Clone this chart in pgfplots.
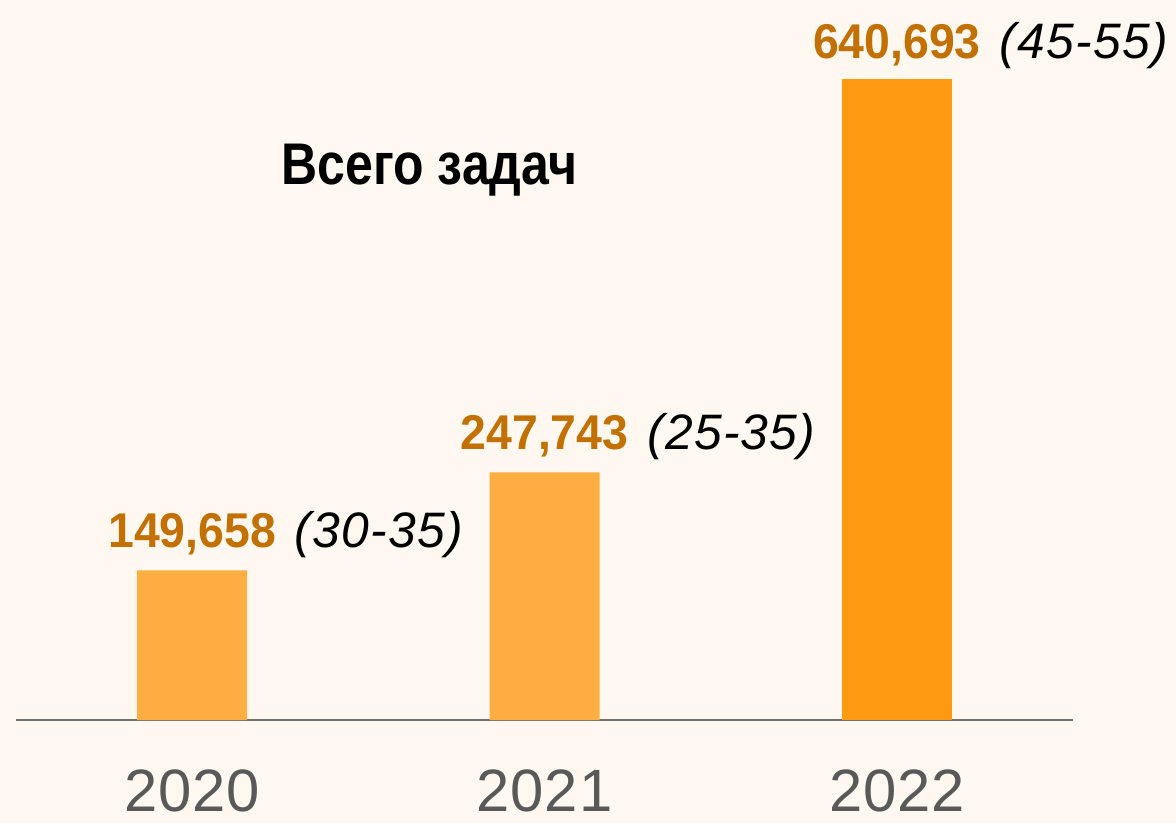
\documentclass[border=0pt]{standalone}
\usepackage{fontspec}
\setmainfont{Liberation Sans}
\newfontfamily\titlefont[FakeStretch=0.85]{Liberation Sans Bold}
\newfontfamily\numfont[FakeStretch=0.95]{Liberation Sans Bold}
\newfontfamily\itfont[LetterSpace=2.5]{Liberation Sans Italic}
\newfontfamily\tickfont[LetterSpace=1.5]{Liberation Sans}
\usepackage{pgfplots}
\pgfplotsset{compat=1.18}
\definecolor{bg}{HTML}{FEF8F1}
\definecolor{barlight}{HTML}{FFAE41}
\definecolor{bardark}{HTML}{FF9912}
\definecolor{numcol}{HTML}{C27000}
\definecolor{tickcol}{HTML}{595959}
\definecolor{axcol}{HTML}{707070}
\newcommand{\rng}[1]{\rlap{\hspace{19bp}\itfont\fontsize{50}{58}\selectfont\color{black}#1}}
\begin{document}
\begin{tikzpicture}
\fill[bg] (0,0) rectangle (1176bp,823bp);
\begin{axis}[
  at={(16bp,103bp)}, anchor=south west,
  scale only axis, width=1057bp, height=720bp,
  xmin=-0.5, xmax=2.5, ymin=0, ymax=720000,
  axis x line*=bottom, axis y line=none,
  x axis line style={draw=axcol, line width=1.5bp, -},
  xtick={0,1,2}, xticklabels={2020,2021,2022},
  major tick length=0pt,
  xticklabel style={font=\tickfont\fontsize{60}{70}\selectfont, text=tickcol, inner sep=0pt, yshift=-50bp, anchor=north},
  ytick=\empty,
  clip=false,
  ybar, bar width=110bp, bar shift=0pt,
  scaled y ticks=false,
]
\addplot[fill=barlight, draw=none] coordinates {(0,149658) (1,247743)};
\addplot[fill=bardark, draw=none] coordinates {(2,640693)};
\node[anchor=base, yshift=23bp, inner sep=0pt, font=\numfont\fontsize{49}{56}\selectfont, text=numcol]
  at (axis cs:0,149658) {149,658\rng{(30-35)}};
\node[anchor=base, yshift=23bp, inner sep=0pt, font=\numfont\fontsize{49}{56}\selectfont, text=numcol]
  at (axis cs:1,247743) {247,743\rng{(25-35)}};
\node[anchor=base, yshift=21bp, inner sep=0pt, font=\numfont\fontsize{49}{56}\selectfont, text=numcol]
  at (axis cs:2,640693) {640,693\rng{(45-55)}};
\node[anchor=base west, inner sep=0pt, font=\titlefont\fontsize{59}{66}\selectfont]
  at (axis cs:0.2535,535000) {Всего задач};
\end{axis}
\pgfresetboundingbox
\path[use as bounding box] (0,0) rectangle (1176bp,823bp);
\end{tikzpicture}
\end{document}
